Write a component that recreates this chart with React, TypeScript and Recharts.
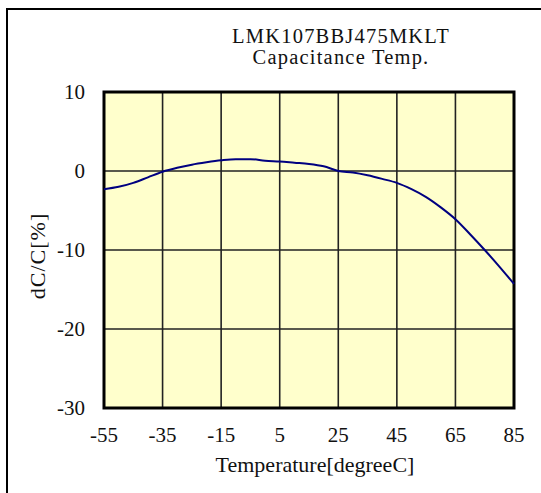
import { LineChart, Line, XAxis, YAxis, CartesianGrid, ReferenceArea, Label } from "recharts";

const temps = [-55, -50, -45, -40, -35, -30, -25, -20, -15, -10, -5, 0, 5, 10, 15, 20, 25, 30, 35, 40, 45, 50, 55, 60, 65, 70, 75, 80, 85];
const dcc = [-2.3, -2.0, -1.5, -0.8, -0.1, 0.4, 0.8, 1.1, 1.35, 1.5, 1.5, 1.3, 1.2, 1.05, 0.9, 0.6, 0.0, -0.2, -0.55, -1.0, -1.5, -2.3, -3.3, -4.6, -6.1, -8.0, -10.0, -12.1, -14.3];
const xTicks = [-55, -35, -15, 5, 25, 45, 65, 85];
const yTicks = [-30, -20, -10, 0, 10];
const titleLines = ["LMK107BBJ475MKLT", "Capacitance Temp."];

const data = temps.map((t, i) => ({ t, v: dcc[i] }));

const FONT = "'Liberation Serif', 'Times New Roman', serif";
const textStyle = { fontFamily: FONT, fontSize: 21, fill: "#111" };

// eslint-disable-next-line @typescript-eslint/no-explicit-any
function XTick({ x, y, payload }: any) {
  return (
    <text x={x} y={y + 15} textAnchor="middle" style={textStyle}>
      {payload.value}
    </text>
  );
}

// eslint-disable-next-line @typescript-eslint/no-explicit-any
function YTick({ x, y, payload }: any) {
  return (
    <text x={x} y={y + 7} textAnchor="end" style={textStyle}>
      {payload.value}
    </text>
  );
}

export default function App() {
  return (
    <div style={{ position: "absolute", left: 0, top: 0, width: 541, height: 493, fontFamily: FONT }}>
      {/* frame: only top and left edges are inside the picture */}
      <div style={{ position: "absolute", left: 6, top: 8, right: 0, bottom: 0, borderLeft: "2px solid #000", borderTop: "2px solid #000" }} />
      {titleLines.map((s, i) => (
        <div
          key={s}
          style={{ position: "absolute", left: 221, width: 240, top: 25 + i * 21, textAlign: "center", fontSize: 20.5, lineHeight: "22px", letterSpacing: 1.2, color: "#111", whiteSpace: "nowrap" }}
        >
          {s}
        </div>
      ))}
      <LineChart width={541} height={493} data={data} margin={{ top: 92, right: 27, left: 0, bottom: 0 }} style={{ position: "absolute", left: 0, top: 0 }}>
        <CartesianGrid stroke="#222" strokeWidth={1.6} fill="#ffffcc" fillOpacity={1} />
        <XAxis
          dataKey="t"
          type="number"
          domain={[-55, 85]}
          ticks={xTicks}
          height={85}
          axisLine={false}
          tickLine={false}
          tickSize={0}
          tickMargin={19}
          tick={<XTick />}
        >
          <Label
            content={() => (
              <text x={315} y={472} textAnchor="middle" style={{ ...textStyle, fontSize: 22 }}>
                Temperature[degreeC]
              </text>
            )}
          />
        </XAxis>
        <YAxis
          type="number"
          domain={[-30, 10]}
          ticks={yTicks}
          width={104}
          axisLine={false}
          tickLine={false}
          tickSize={0}
          tickMargin={19}
          tick={<YTick />}
        >
          <Label
            content={() => (
              <text x={37} y={256} transform="rotate(-90 37 256)" textAnchor="middle" dominantBaseline="central" style={{ ...textStyle, fontSize: 22, letterSpacing: 1 }}>
                dC/C[%]
              </text>
            )}
          />
        </YAxis>
        <ReferenceArea x1={-55} x2={85} y1={-30} y2={10} fill="none" stroke="#000" strokeWidth={3} ifOverflow="visible" />
        <Line dataKey="v" type="monotone" stroke="#000080" strokeWidth={2} dot={false} isAnimationActive={false} />
      </LineChart>
    </div>
  );
}
